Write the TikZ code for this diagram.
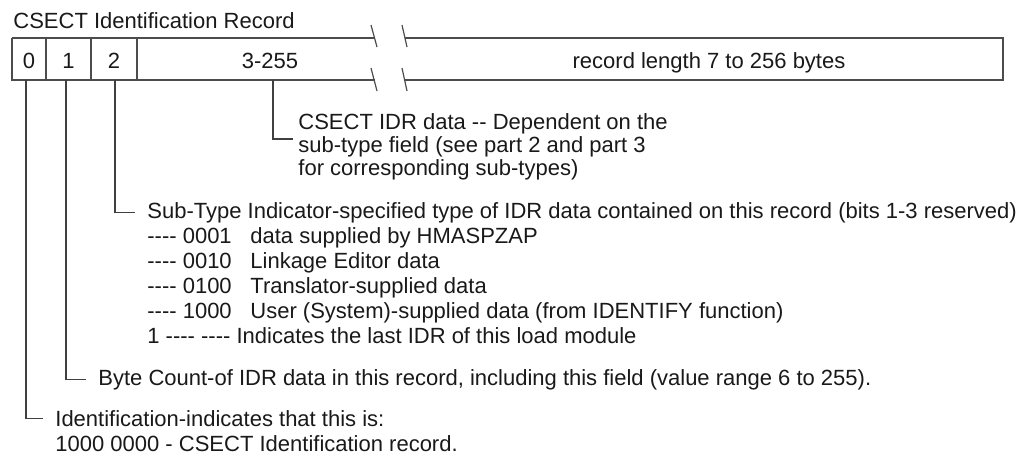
\documentclass[tikz,border=0pt]{standalone}
\usepackage{fontspec}
\setmainfont{Liberation Sans}[Ligatures=TeXOff]
\usepackage{xcolor}

\begin{document}
\begin{tikzpicture}[x=0.5pt, y=-0.5pt, font=\fontsize{11}{12.5}\selectfont,
    every node/.style={inner sep=0pt, text=black!90},
    rec/.style={draw=black!70, line width=0.6pt},
    lead/.style={draw=black!75, line width=0.6pt, shorten >=6pt}]
      \useasboundingbox (0,0) rectangle (1026,455);
      \pgfmathsetmacro{\ytop}{38}
      \pgfmathsetmacro{\ybot}{80}
      \pgfmathsetmacro{\xl}{12}
      \pgfmathsetmacro{\xr}{1003}
      \pgfmathsetmacro{\ba}{375}
      \pgfmathsetmacro{\bb}{405}
      \node[anchor=base west] (title) at (13,28) {CSECT Identification Record};
      % the record, broken between 3-255 and the rest
      \draw[rec] (\xl,\ytop) -- (\ba,\ytop);
      \draw[rec] (\bb,\ytop) -- (\xr,\ytop) -- (\xr,\ybot) -- (\bb,\ybot);
      \draw[rec] (\ba,\ybot) -- (\xl,\ybot) -- (\xl,\ytop);
      \draw[rec] (46,\ytop) -- (46,\ybot);
      \draw[rec] (91,\ytop) -- (91,\ybot);
      \draw[rec] (137,\ytop) -- (137,\ybot);
      \draw[rec] (371,25) -- (377,47);
      \draw[rec] (402,25) -- (407,47);
      \draw[rec] (371,68) -- (377,91);
      \draw[rec] (402,68) -- (407,91);
      \node[anchor=base] (f0) at (29,68) {0};
      \node[anchor=base] (f1) at (68.5,68) {1};
      \node[anchor=base] (f2) at (114,68) {2};
      \node[anchor=base] (f3) at (270,68) {3-255};
      \node[anchor=base] (f4) at (709,68) {record length 7 to 256 bytes};

      \coordinate (l0) at (26,\ybot);
      \coordinate (l1) at (66,\ybot);
      \coordinate (l2) at (115,\ybot);
      \coordinate (l3) at (273,\ybot);
      \coordinate (k3) at (293,139);

      \node[anchor=base west, align=left, font=\fontsize{11}{10}\selectfont] (d3) at (298,175)
        {CSECT IDR data -- Dependent on the\\sub-type field (see part 2 and part 3\\for corresponding sub-types)};
      \node[anchor=base west] (d2) at (147,218) {Sub-Type Indicator-specified type of IDR data contained on this record (bits 1-3 reserved)};
      \node[anchor=base west] (s1c) at (147,243) {---- 0001};
      \node[anchor=base west] (s1d) at (250,243) {data supplied by HMASPZAP};
      \node[anchor=base west] (s2c) at (147,268) {---- 0010};
      \node[anchor=base west] (s2d) at (250,268) {Linkage Editor data};
      \node[anchor=base west] (s3c) at (147,293) {---- 0100};
      \node[anchor=base west] (s3d) at (250,293) {Translator-supplied data};
      \node[anchor=base west] (s4c) at (147,318) {---- 1000};
      \node[anchor=base west] (s4d) at (250,318) {User (System)-supplied data (from IDENTIFY function)};
      \node[anchor=base west] (s5) at (147,343) {1 ---- ---- Indicates the last IDR of this load module};
      \node[anchor=base west] (d1) at (98,385) {Byte Count-of IDR data in this record, including this field (value range 6 to 255).};
      \node[anchor=base west] (d0) at (55,426) {Identification-indicates that this is:};
      \node[anchor=base west] (d0b) at (55,451) {1000 0000 - CSECT Identification record.};

      \draw[lead, shorten >=0pt] (l3) |- (k3);
      \draw[lead] (l2) |- (d2.west);
      \draw[lead] (l1) |- (d1.west);
      \draw[lead] (l0) |- (d0.west);
    \end{tikzpicture}
\end{document}
